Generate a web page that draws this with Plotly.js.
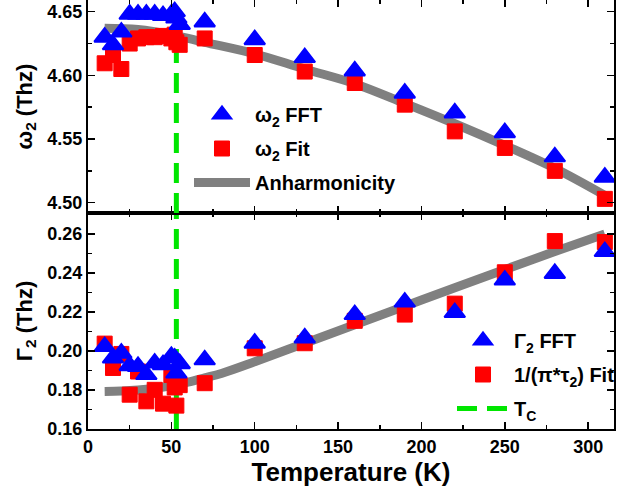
<!DOCTYPE html>
<html><head><meta charset="utf-8">
<script src="https://cdn.plot.ly/plotly-3.0.1.min.js"></script>
<style>html,body{margin:0;padding:0;background:#fff}#chart{width:621px;height:489px}</style>
</head><body><div id="chart"></div>
<script>
// Temperatures (K) of the measured points
const temps = [10,15,20,25,30,35,40,45,50,52,53,55,70,100,130,160,190,220,250,280,310];
// Top panel: omega_2 (THz)
const omegaFFT = [4.630,4.624,4.634,4.648,4.648,4.648,4.648,4.647,4.648,4.650,4.645,4.640,4.642,4.628,4.614,4.6035,4.586,4.5705,4.555,4.536,4.520];
const omegaFit = [4.6095,4.616,4.605,4.625,4.629,4.630,4.630,4.631,4.629,4.632,4.626,4.624,4.629,4.616,4.603,4.594,4.577,4.556,4.543,4.525,4.503];
// Anharmonicity curve
const anhTemps = [10,30,50,70,100,130,160,190,220,250,280,310];
const anhOmega = [4.637,4.636,4.632,4.626,4.617,4.605,4.5935,4.578,4.562,4.545,4.527,4.5057];
// Bottom panel: Gamma_2 (THz)
const gammaFFT = [0.2023,0.1964,0.1989,0.1925,0.1921,0.1879,0.1938,0.1930,0.1972,0.1964,0.1887,0.1935,0.1955,0.2040,0.2067,0.2187,0.2251,0.2197,0.2364,0.2398,0.2510];
const gammaFit = [0.2038,0.1913,0.1985,0.1776,0.1895,0.1742,0.1801,0.1730,0.1877,0.1813,0.1720,0.1825,0.1835,0.2014,0.2040,0.2155,0.2187,0.2243,0.2404,0.2564,0.2559];
// Gray fit line in bottom panel
const lineTemps = [10,20,30,40,50,60,70,80,100,130,160,190,220,250,280,310];
const lineGamma = [0.1793,0.1795,0.1800,0.1809,0.1822,0.1840,0.1862,0.1885,0.1945,0.2040,0.2135,0.2230,0.2325,0.2418,0.2510,0.2600];
// Transition temperature
const tcTemp = 53;
const tcOmegaSpan = [4.4919, 4.645];
const tcGammaSpan = [0.16, 0.2708];
// Axes
const xRange = [0, 315.5];
const omegaRange = [4.4919, 4.6592];
const gammaRange = [0.16, 0.2708];
const xTitle = 'Temperature (K)';
const omegaTitle = '\u03c9<sub>2</sub> (Thz)';
const gammaTitle = '\u0393<sub>2</sub> (Thz)';

const FONT = 'Liberation Sans, Arial, sans-serif';
const BLUE = '#0000ff', RED = '#ff0000', GRAY = '#808080', GREEN = '#00e600';

const triMarker = {symbol:'triangle-up', size:18, color:BLUE, line:{color:BLUE, width:2}};
const sqMarker = {symbol:'square', size:15, color:RED, line:{color:RED, width:1}};

const traces = [
  // top panel
  {x:anhTemps, y:anhOmega, xaxis:'x2', yaxis:'y2', mode:'lines', line:{color:GRAY, width:9, shape:'spline'},
   name:'Anharmonicity', legend:'legend', legendrank:3, legendgroup:'a3'},
  {x:[tcTemp,tcTemp], y:tcOmegaSpan, xaxis:'x2', yaxis:'y2', mode:'lines', line:{color:GREEN, width:5, dash:'20px,10px'},
   showlegend:false, hoverinfo:'skip'},
  {x:temps, y:omegaFit, xaxis:'x2', yaxis:'y2', mode:'markers', marker:sqMarker,
   name:'\u03c9<sub>2</sub> Fit', legend:'legend', legendrank:2, legendgroup:'a2'},
  {x:temps, y:omegaFFT, xaxis:'x2', yaxis:'y2', mode:'markers', marker:triMarker,
   name:'\u03c9<sub>2</sub> FFT', legend:'legend', legendrank:1, legendgroup:'a1'},
  // bottom panel
  {x:lineTemps, y:lineGamma, xaxis:'x', yaxis:'y', mode:'lines', line:{color:GRAY, width:9, shape:'spline'},
   showlegend:false},
  {x:[tcTemp,tcTemp], y:tcGammaSpan, xaxis:'x', yaxis:'y', mode:'lines', line:{color:GREEN, width:5, dash:'20px,10px'},
   name:'T<sub>C</sub>', legend:'legend2', legendrank:3, legendgroup:'b3'},
  {x:temps, y:gammaFit, xaxis:'x', yaxis:'y', mode:'markers', marker:sqMarker,
   name:'1/(\u03c0*\u03c4<sub>2</sub>) Fit', legend:'legend2', legendrank:2, legendgroup:'b2'},
  {x:temps, y:gammaFFT, xaxis:'x', yaxis:'y', mode:'markers', marker:triMarker,
   name:'\u0393<sub>2</sub> FFT', legend:'legend2', legendrank:1, legendgroup:'b1'}
];

const tickFont = {family:FONT, size:18, color:'#000', weight:'bold'};
const commonAxis = {
  showline:true, linecolor:'#000', linewidth:2, mirror:'allticks',
  ticks:'inside', ticklen:7, tickwidth:1.5, tickcolor:'#000',
  showgrid:false, zeroline:false, tickfont:tickFont
};
const split = 216/429;
const legendFont = {family:FONT, size:20, weight:'bold', color:'#000'};

const layout = {
  width:621, height:489,
  margin:{l:88, r:7, t:0, b:60},
  paper_bgcolor:'#fff', plot_bgcolor:'#fff',
  font:{family:FONT, color:'#000'},
  xaxis: Object.assign({}, commonAxis, {
    domain:[0,1], anchor:'y', range:xRange, dtick:50, tick0:0,
    minor:{ticks:'inside', ticklen:4, dtick:25, tickcolor:'#000', tickwidth:1.5},
    title:{text:xTitle, font:{family:FONT, size:26, weight:'bold', color:'#000'}, standoff:1}
  }),
  xaxis2: Object.assign({}, commonAxis, {
    domain:[0,1], anchor:'y2', range:xRange, dtick:50, tick0:0, matches:'x', showticklabels:false,
    minor:{ticks:'inside', ticklen:4, dtick:25, tickcolor:'#000', tickwidth:1.5}
  }),
  yaxis: Object.assign({}, commonAxis, {
    domain:[0,split], anchor:'x', range:gammaRange, dtick:0.02, tick0:0, tickformat:'.2f',
    minor:{ticks:'inside', ticklen:4, dtick:0.01, tickcolor:'#000', tickwidth:1.5},
    title:{text:gammaTitle, font:{family:FONT, size:22, weight:'bold', color:'#000'}, standoff:9}
  }),
  yaxis2: Object.assign({}, commonAxis, {
    domain:[split,1], anchor:'x2', range:omegaRange, dtick:0.05, tick0:0, tickformat:'.2f',
    minor:{ticks:'inside', ticklen:4, dtick:0.025, tickcolor:'#000', tickwidth:1.5},
    title:{text:omegaTitle, font:{family:FONT, size:22, weight:'bold', color:'#000'}, standoff:9}
  }),
  legend:{x:(189-88)/526, y:(429-95)/429, xanchor:'left', yanchor:'top', bgcolor:'rgba(0,0,0,0)',
    font:legendFont, itemwidth:56, traceorder:'grouped', tracegroupgap:5},
  legend2:{x:(452-88)/526, y:(429-321)/429, xanchor:'left', yanchor:'top', bgcolor:'rgba(0,0,0,0)',
    font:legendFont, itemwidth:52, traceorder:'grouped', tracegroupgap:5},
  showlegend:true
};

Plotly.newPlot('chart', traces, layout, {displayModeBar:false, staticPlot:true});
</script>
</body></html>
